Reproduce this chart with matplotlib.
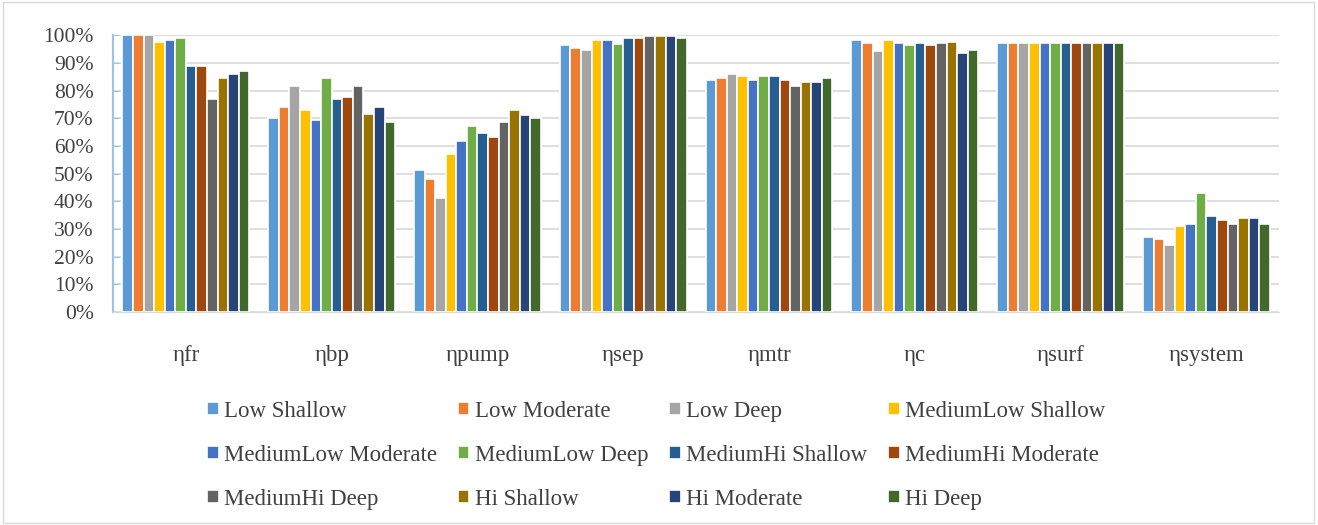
import numpy as np
import matplotlib.pyplot as plt
from matplotlib.patches import Rectangle

plt.rcParams['font.family'] = ['Liberation Serif', 'DejaVu Serif']

# efficiency stages along the x axis
categories = ['ηfr', 'ηbp', 'ηpump', 'ηsep', 'ηmtr', 'ηc', 'ηsurf', 'ηsystem']

# one series per scenario, values in percent
series = {
    'Low Shallow':         [100.0, 70.0, 51.3, 96.3, 83.9, 98.3, 97.0, 27.0],
    'Low Moderate':        [100.0, 74.1, 48.0, 95.4, 84.5, 97.0, 97.0, 26.4],
    'Low Deep':            [100.0, 81.7, 41.0, 94.8, 85.9, 94.1, 97.0, 24.3],
    'MediumLow Shallow':   [97.6, 72.8, 56.9, 98.3, 85.2, 98.3, 97.0, 31.1],
    'MediumLow Moderate':  [98.4, 69.4, 61.7, 98.3, 83.9, 97.0, 97.0, 31.9],
    'MediumLow Deep':      [99.0, 84.5, 67.2, 96.9, 85.2, 96.3, 97.0, 42.9],
    'MediumHi Shallow':    [88.8, 76.9, 64.5, 99.0, 85.2, 97.0, 97.0, 34.7],
    'MediumHi Moderate':   [88.8, 77.6, 63.1, 99.0, 83.9, 96.3, 97.0, 33.3],
    'MediumHi Deep':       [76.8, 81.7, 68.6, 99.8, 81.7, 97.0, 97.0, 31.9],
    'Hi Shallow':          [84.4, 71.4, 72.8, 99.8, 83.1, 97.6, 97.0, 34.0],
    'Hi Moderate':         [85.8, 74.1, 71.3, 99.8, 83.1, 93.5, 97.0, 34.0],
    'Hi Deep':             [87.1, 68.7, 70.0, 99.0, 84.5, 94.8, 97.0, 31.9],
}

colors = ['#5B9BD5', '#ED7D31', '#A5A5A5', '#FFC000', '#4472C4', '#70AD47',
          '#255E91', '#9E480E', '#636363', '#997300', '#264478', '#43682B']

fig = plt.figure(figsize=(13.18, 5.25), dpi=100)
ax = fig.add_axes([0.0857, 0.406, 0.885, 0.527])

x = np.arange(len(categories))
n = len(series)
group_w = 0.87
w = group_w / n
for i, (name, vals) in enumerate(series.items()):
    ax.bar(x - group_w / 2 + w * (i + 0.5), np.array(vals) / 100, width=w,
           color=colors[i], edgecolor='white', linewidth=1.2, label=name, zorder=3)

ax.set_xlim(-0.5, len(categories) - 0.5)
ax.set_ylim(0, 1.0)
ax.set_yticks(np.arange(0, 1.01, 0.1))
ax.set_yticklabels([f'{int(round(v * 100))}%' for v in np.arange(0, 1.01, 0.1)],
                   fontsize=15.5, color='#404040')
ax.set_xticks(x)
ax.set_xticklabels(categories, fontsize=16.5, color='#404040')
ax.tick_params(axis='x', length=0, pad=24)
ax.tick_params(axis='y', length=4, direction='in', color='#9DC3E6', pad=14)
ax.yaxis.grid(True, color='#D9D9D9', linewidth=1.2, zorder=0)
for s in ['top', 'right']:
    ax.spines[s].set_visible(False)
ax.spines['bottom'].set_color('#D9D9D9')
ax.spines['left'].set_color('#9DC3E6')
ax.spines['left'].set_linewidth(1.5)

# legend is filled row by row, matplotlib fills column by column
handles, labels = ax.get_legend_handles_labels()
ncol, nrow = 4, 3
order = [r * ncol + c for c in range(ncol) for r in range(nrow)]
fig.legend([handles[k] for k in order], [labels[k] for k in order],
           loc='center', bbox_to_anchor=(0.498, 0.133), ncol=ncol,
           frameon=False, fontsize=16.5, handlelength=0.5, handleheight=0.5,
           handletextpad=0.25, columnspacing=0.9, labelspacing=1.0,
           labelcolor='#404040')

# light frame around the whole chart
fig.patches.append(Rectangle((0.002, 0.003), 0.995, 0.993, transform=fig.transFigure,
                             fill=False, edgecolor='#D9D9D9', linewidth=1))

fig.savefig('out.png', dpi=100)
